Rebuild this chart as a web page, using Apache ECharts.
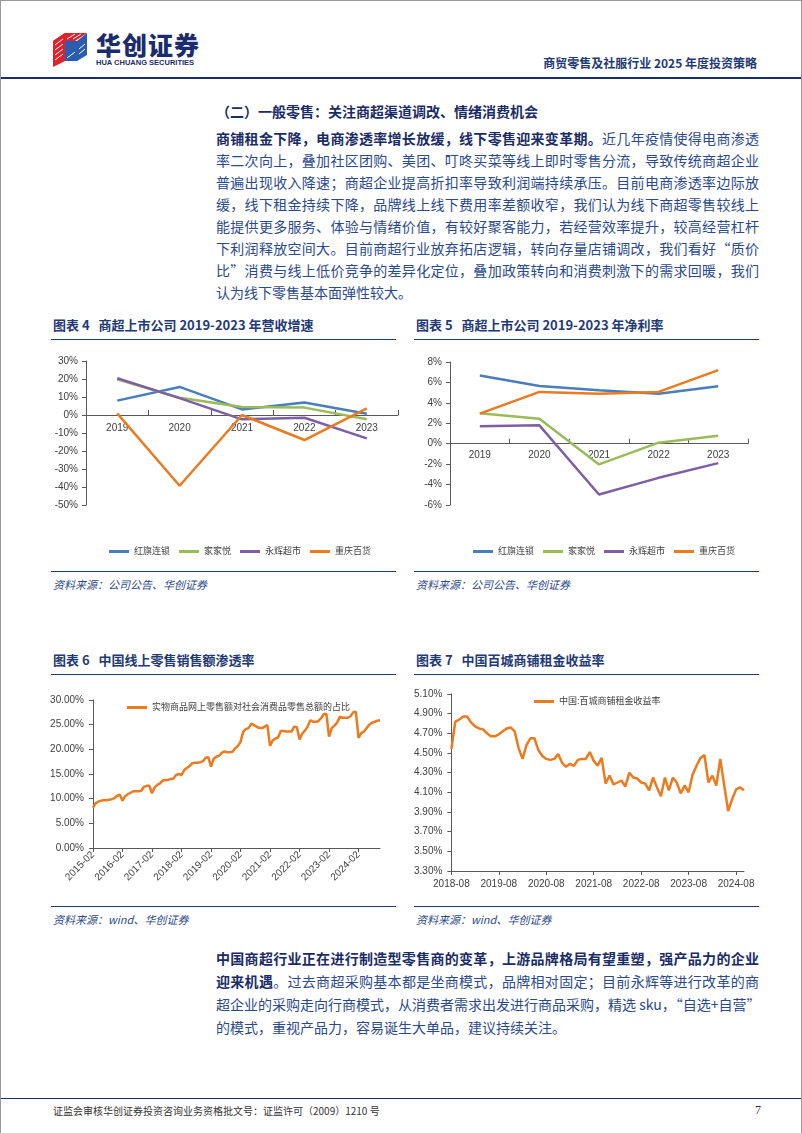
<!DOCTYPE html>
<html>
<head>
<meta charset="utf-8">
<script src="https://cdn.jsdelivr.net/npm/echarts@6.0.0/dist/echarts.min.js"></script>
<style>
body{margin:0;background:#fff;font-family:"Noto Sans CJK SC","Noto Sans",sans-serif;}
#page{position:relative;width:802px;height:1133px;overflow:hidden;background:#fff;box-sizing:border-box;border-top:1px solid #9a9a9a;border-left:1px solid #9a9a9a;border-right:1px solid #9a9a9a;}
.t{position:absolute;white-space:nowrap;}
.para{position:absolute;left:215px;width:543px;}
.para div{height:22px;line-height:22px;font-size:14px;color:#2b4a8b;text-align:justify;text-align-last:justify;white-space:nowrap;}
.para div.last{text-align-last:left;}
.para b{color:#1a2c66;}
.ctitle{font-size:13px;font-weight:bold;color:#1f3a75;}
.hr{position:absolute;height:1px;background:#1f3a75;}
.src{font-size:11px;font-style:italic;color:#2b4a8b;}
.chart{position:absolute;}
</style>
</head>
<body>
<div id="page">
  <!--页眉-->
  <svg class="t" style="left:52px;top:30px" width="38" height="36" viewBox="0 0 38 36">
    <polygon points="0,10 12,2 12,30 0,36" fill="#e0202a"/>
    <polygon points="12,2 34,2 22,10 0,10" fill="#e0202a"/>
    <polygon points="12,10 24,10 24,30 12,30" fill="#2a5db0"/>
    <polygon points="24,10 34,2 34,24 24,30" fill="#2a5db0"/>
    <g stroke="#fff" stroke-width="1">
      <line x1="2" y1="14" x2="10" y2="8"/><line x1="2" y1="19" x2="10" y2="13"/><line x1="2" y1="24" x2="10" y2="18"/>
      <line x1="2" y1="29" x2="10" y2="23"/><line x1="14" y1="8" x2="22" y2="3"/><line x1="20" y1="8" x2="28" y2="3"/>
      <line x1="26" y1="18" x2="32" y2="13"/><line x1="26" y1="23" x2="32" y2="18"/><line x1="14" y1="27" x2="22" y2="21"/>
    </g>
  </svg>
  <div class="t" style="left:95px;top:28px;font-size:25px;font-weight:900;color:#1a2c6b;letter-spacing:1px;line-height:30px">华创证券</div>
  <div class="t" style="left:95px;top:57px;font-size:7.5px;font-weight:bold;color:#1a2c6b;line-height:9px;font-family:'Liberation Sans',sans-serif">HUA CHUANG SECURITIES</div>
  <div class="t" style="right:44px;top:54px;font-size:12px;font-weight:bold;color:#1f3a75;line-height:16px">商贸零售及社服行业 2025 年度投资策略</div>
  <div class="hr" style="left:0;top:76px;width:802px;height:2px;background:#1a2c6b"></div>

  <div class="t" style="left:215px;top:100px;font-size:14px;font-weight:bold;color:#1a2c66;line-height:20px">（二）一般零售：关注商超渠道调改、情绪消费机会</div>
  <div class="para" style="top:126px">
    <div><b>商铺租金下降，电商渗透率增长放缓，线下零售迎来变革期。</b>近几年疫情使得电商渗透</div>
    <div>率二次向上，叠加社区团购、美团、叮咚买菜等线上即时零售分流，导致传统商超企业</div>
    <div>普遍出现收入降速；商超企业提高折扣率导致利润端持续承压。目前电商渗透率边际放</div>
    <div>缓，线下租金持续下降，品牌线上线下费用率差额收窄，我们认为线下商超零售较线上</div>
    <div>能提供更多服务、体验与情绪价值，有较好聚客能力，若经营效率提升，较高经营杠杆</div>
    <div>下利润释放空间大。目前商超行业放弃拓店逻辑，转向存量店铺调改，我们看好“质价</div>
    <div>比”消费与线上低价竞争的差异化定位，叠加政策转向和消费刺激下的需求回暖，我们</div>
    <div class="last">认为线下零售基本面弹性较大。</div>
  </div>

  <!--图表4/5-->
  <div class="t ctitle" style="left:52px;top:314px">图表 4&nbsp;&nbsp;&nbsp;商超上市公司 2019-2023 年营收增速</div>
  <div class="hr" style="left:50px;top:338px;width:345px"></div>
  <div class="t ctitle" style="left:415px;top:314px">图表 5&nbsp;&nbsp;&nbsp;商超上市公司 2019-2023 年净利率</div>
  <div class="hr" style="left:413px;top:338px;width:345px"></div>
  <div id="chart4" class="chart" style="left:40px;top:345px;width:360px;height:220px"></div>
  <div id="chart5" class="chart" style="left:410px;top:345px;width:360px;height:220px"></div>
  <div class="hr" style="left:50px;top:570px;width:345px"></div>
  <div class="hr" style="left:413px;top:570px;width:345px"></div>
  <div class="t src" style="left:52px;top:575px">资料来源：公司公告、华创证券</div>
  <div class="t src" style="left:415px;top:575px">资料来源：公司公告、华创证券</div>

  <!--图表6/7-->
  <div class="t ctitle" style="left:52px;top:649px">图表 6&nbsp;&nbsp;&nbsp;中国线上零售销售额渗透率</div>
  <div class="hr" style="left:50px;top:673px;width:345px"></div>
  <div class="t ctitle" style="left:415px;top:649px">图表 7&nbsp;&nbsp;&nbsp;中国百城商铺租金收益率</div>
  <div class="hr" style="left:413px;top:673px;width:345px"></div>
  <div id="chart6" class="chart" style="left:40px;top:680px;width:360px;height:215px"></div>
  <div id="chart7" class="chart" style="left:410px;top:680px;width:360px;height:215px"></div>
  <div class="hr" style="left:50px;top:905px;width:345px"></div>
  <div class="hr" style="left:413px;top:905px;width:345px"></div>
  <div class="t src" style="left:52px;top:910px">资料来源：wind、华创证券</div>
  <div class="t src" style="left:415px;top:910px">资料来源：wind、华创证券</div>

  <div class="para" style="top:946px">
    <div style="height:23px;line-height:23px"><b>中国商超行业正在进行制造型零售商的变革，上游品牌格局有望重塑，强产品力的企业</b></div>
    <div style="height:23px;line-height:23px"><b>迎来机遇</b>。过去商超采购基本都是坐商模式，品牌相对固定；目前永辉等进行改革的商</div>
    <div style="height:23px;line-height:23px">超企业的采购走向行商模式，从消费者需求出发进行商品采购，精选 sku，“自选+自营”</div>
    <div class="last" style="height:23px;line-height:23px">的模式，重视产品力，容易诞生大单品，建议持续关注。</div>
  </div>

  <!--页脚-->
  <div class="hr" style="left:0;top:1097px;width:802px;height:1px;background:#1a2c6b"></div>
  <div class="t" style="left:52px;top:1103px;font-size:10px;color:#333;line-height:14px">证监会审核华创证券投资咨询业务资格批文号：证监许可（2009）1210 号</div>
  <div class="t" style="left:754px;top:1102px;font-size:12px;color:#333;line-height:14px;font-family:'Liberation Serif',serif">7</div>
</div>

<script>
    // 图表4 营收增速（%）
    var years = ['2019', '2020', '2021', '2022', '2023'];
    var growHongqi = [8.0, 15.6, 3.1, 7.0, 0.7];
    var growJiajiayue = [19.8, 9.6, 4.4, 4.1, -2.4];
    var growYonghui = [20.4, 9.4, -2.4, -1.5, -13.0];
    var growChongqing = [0.9, -39.3, 0.0, -13.9, 3.7];

    // 图表5 净利率（%）
    var marginHongqi = [6.67, 5.66, 5.23, 4.90, 5.63];
    var marginJiajiayue = [2.98, 2.45, -2.03, 0.10, 0.79];
    var marginYonghui = [1.70, 1.80, -4.97, -3.34, -1.90];
    var marginChongqing = [2.94, 5.07, 4.90, 5.07, 7.20];

    var companyNames = ['红旗连锁', '家家悦', '永辉超市', '重庆百货'];
    var companyColors = ['#4a7ebb', '#9bbb59', '#7d5fa5', '#ec7a1e'];

    // 图表6 实物商品网上零售额占社零比重（%），每年2-12月
    var onlineYears = [2015, 2016, 2017, 2018, 2019, 2020, 2021, 2022, 2023, 2024];
    var online2015 = [8.2, 9.1, 9.4, 9.6, 9.7, 9.7, 9.8, 9.9, 10.1, 10.6, 10.8];
    var online2016 = [9.6, 10.5, 10.9, 11.2, 11.5, 11.5, 11.5, 11.6, 12.4, 12.6, 12.6];
    var online2017 = [11.1, 12.3, 12.8, 13.1, 13.7, 13.8, 13.8, 14.0, 14.1, 14.8, 15.0];
    var online2018 = [14.8, 15.8, 16.2, 16.6, 17.2, 17.3, 17.3, 17.4, 17.6, 18.3, 18.4];
    var online2019 = [16.5, 18.1, 18.5, 18.7, 19.3, 19.6, 19.4, 19.4, 19.5, 20.2, 20.7];
    var online2020 = [21.5, 23.6, 24.1, 24.3, 25.2, 24.9, 24.6, 24.3, 24.3, 24.6, 24.9];
    var online2021 = [20.7, 21.8, 22.2, 22.4, 23.7, 23.7, 23.6, 23.6, 23.6, 24.6, 24.5];
    var online2022 = [22.0, 23.2, 23.8, 24.6, 25.9, 25.6, 25.6, 25.7, 26.3, 27.1, 27.2];
    var online2023 = [22.6, 24.3, 24.8, 25.4, 26.6, 26.4, 26.4, 26.4, 26.7, 27.5, 27.6];
    var online2024 = [22.3, 23.3, 23.6, 24.3, 25.0, 25.4, 25.6, 25.8, 25.9];
    var onlineSeries = [online2015, online2016, online2017, online2018, online2019,
        online2020, online2021, online2022, online2023, online2024];

    // 图表7 百城商铺租金收益率（%），2018-08 起按月
    var rentStart = [2018, 8];
    var rentYield = [
        4.54, 4.82, 4.84, 4.87, 4.87, 4.81, 4.77, 4.75, 4.74, 4.70, 4.67, 4.67,
        4.69, 4.72, 4.75, 4.76, 4.72, 4.55, 4.44, 4.58, 4.65, 4.65, 4.53, 4.47,
        4.44, 4.43, 4.44, 4.49, 4.40, 4.36, 4.39, 4.37, 4.43, 4.44, 4.44, 4.51,
        4.42, 4.37, 4.45, 4.19, 4.27, 4.18, 4.20, 4.22, 4.16, 4.30, 4.25, 4.24,
        4.20, 4.19, 4.12, 4.25, 4.15, 4.06, 4.25, 4.12, 4.25, 4.20, 4.09, 4.17,
        4.10, 4.28, 4.37, 4.45, 4.48, 4.20, 4.27, 4.17, 4.44, 4.17, 3.91, 4.03,
        4.13, 4.15, 4.12
    ];

    var pad2 = function (n) { return n < 10 ? '0' + n : '' + n; };
    var axisColor = '#595959';
    var labelColor = '#404040';
    var numFont = '"Liberation Sans", "Noto Sans CJK SC", sans-serif';

    // 图表6 月份类目
    var onlineMonths = [];
    var onlineValues = [];
    onlineSeries.forEach(function (arr, i) {
        arr.forEach(function (v, j) {
            onlineMonths.push(onlineYears[i] + '-' + pad2(j + 2));
            onlineValues.push(v);
        });
    });

    // 图表7 月份类目
    var rentMonths = [];
    rentYield.forEach(function (v, k) {
        var m = rentStart[1] - 1 + k;
        rentMonths.push((rentStart[0] + Math.floor(m / 12)) + '-' + pad2(m % 12 + 1));
    });

    function companyChart(id, seriesData, yMin, yMax, yStep, grid, legendLeft, labelMargin) {
        var chart = echarts.init(document.getElementById(id));
        // x轴放在0值处（标签随轴线一起上移）
        var gridH = chart.getHeight() - grid.top - grid.bottom;
        var zeroLift = gridH * (0 - yMin) / (yMax - yMin);
        chart.setOption({
            animation: false,
            textStyle: { fontFamily: numFont },
            color: companyColors,
            grid: grid,
            legend: {
                left: legendLeft,
                top: 196,
                icon: 'rect',
                itemWidth: 20,
                itemHeight: 3,
                itemGap: 9,
                textStyle: { fontSize: 9, color: labelColor },
                data: companyNames
            },
            xAxis: {
                type: 'category',
                data: years,
                boundaryGap: true,
                offset: -zeroLift,
                axisLine: { onZero: false, lineStyle: { color: axisColor, width: 1 } },
                axisTick: { show: true, inside: true, length: 5, lineStyle: { color: axisColor } },
                axisLabel: { fontSize: 10, color: labelColor, margin: labelMargin }
            },
            yAxis: {
                type: 'value',
                min: yMin,
                max: yMax,
                interval: yStep,
                splitLine: { show: false },
                axisLine: { show: true, lineStyle: { color: axisColor } },
                axisTick: { show: true, length: 4, lineStyle: { color: axisColor } },
                axisLabel: { fontSize: 10, color: labelColor, margin: 8, formatter: '{value}%' }
            },
            series: seriesData.map(function (d, i) {
                return {
                    name: companyNames[i],
                    type: 'line',
                    data: d,
                    symbol: 'none',
                    lineStyle: { width: 2.5 }
                };
            })
        });
    }

    companyChart('chart4', [growHongqi, growJiajiayue, growYonghui, growChongqing],
        -50, 30, 10, { left: 45, right: 3, top: 15, bottom: 61 }, 63, 8);
    companyChart('chart5', [marginHongqi, marginJiajiayue, marginYonghui, marginChongqing],
        -6, 8, 2, { left: 39, right: 23, top: 16, bottom: 61 }, 57, 7);

    function monthChart(id, cats, values, name, keepLabel, yMin, yMax, yStep, grid, legendLeft, rotate) {
        var chart = echarts.init(document.getElementById(id));
        var pick = function (idx, val) { return keepLabel(val); };
        chart.setOption({
            animation: false,
            textStyle: { fontFamily: numFont },
            color: ['#ec7a1e'],
            grid: grid,
            legend: {
                left: legendLeft,
                top: grid.top - 2,
                icon: 'rect',
                itemWidth: 20,
                itemHeight: 3,
                textStyle: { fontSize: 9, color: labelColor },
                data: [name]
            },
            xAxis: {
                type: 'category',
                data: cats,
                boundaryGap: false,
                axisLine: { lineStyle: { color: axisColor } },
                axisTick: { show: true, length: 4, interval: pick, lineStyle: { color: axisColor } },
                axisLabel: { fontSize: 10, color: labelColor, margin: rotate ? 5 : 8, rotate: rotate, interval: pick }
            },
            yAxis: {
                type: 'value',
                min: yMin,
                max: yMax,
                interval: yStep,
                splitLine: { show: false },
                axisLine: { show: true, lineStyle: { color: axisColor } },
                axisTick: { show: true, length: 4, lineStyle: { color: axisColor } },
                axisLabel: {
                    fontSize: 10, color: labelColor, margin: 9,
                    formatter: function (v) { return v.toFixed(2) + '%'; }
                }
            },
            series: [{
                name: name,
                type: 'line',
                data: values,
                symbol: 'none',
                lineStyle: { width: 2.5 }
            }]
        });
    }

    monthChart('chart6', onlineMonths, onlineValues, '实物商品网上零售额对社会消费品零售总额的占比',
        function (v) { return v.slice(5) === '02'; },
        0, 30, 5, { left: 52, right: 21, top: 19, bottom: 48 }, 81, 45);
    monthChart('chart7', rentMonths, rentYield, '中国:百城商铺租金收益率',
        function (v) { return v.slice(5) === '08'; },
        3.3, 5.1, 0.2, { left: 40, right: 27, top: 13, bottom: 25 }, 118, 0);
</script>
</body>
</html>
